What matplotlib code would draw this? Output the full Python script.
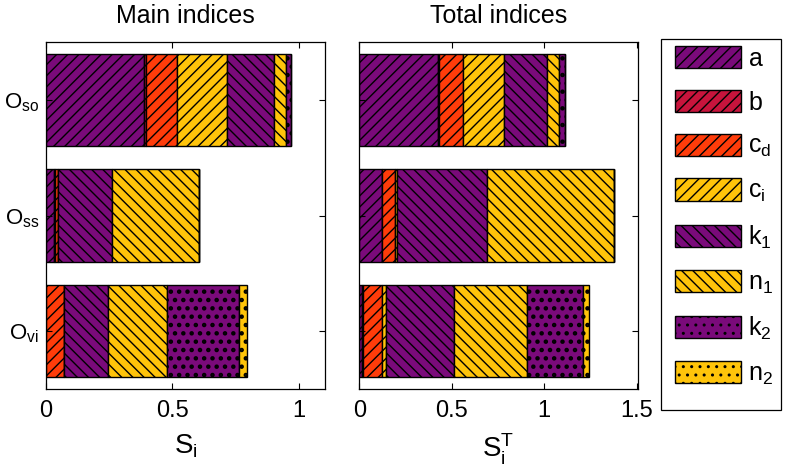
import numpy as np
import matplotlib
matplotlib.use("Agg")
import matplotlib.pyplot as plt
from matplotlib.patches import Rectangle


OUTPUT_FILE = "out.png"

# parameters (stack order, left to right) and outputs (top to bottom)
params = ["a", "b", "c_d", "c_i", "k_1", "n_1", "k_2", "n_2"]
outputs = ["so", "ss", "vi"]

# main (first-order) indices S_i, one list per output
main_so = [0.389, 0.005, 0.123, 0.198, 0.188, 0.046, 0.020, 0.002]
main_ss = [0.032, 0.003, 0.013, 0.0, 0.212, 0.345, 0.0, 0.0]
main_vi = [0.0, 0.0, 0.073, 0.0, 0.171, 0.233, 0.288, 0.032]

# total indices S_i^T
total_so = [0.428, 0.004, 0.127, 0.222, 0.233, 0.063, 0.034, 0.0]
total_ss = [0.125, 0.0, 0.068, 0.010, 0.488, 0.687, 0.0, 0.0]
total_vi = [0.015, 0.005, 0.102, 0.020, 0.371, 0.396, 0.303, 0.030]

PURPLE = "#7a0a7a"
CRIMSON = "#c8143c"
RED = "#ff3c0a"
YELLOW = "#ffc40a"

colors = [PURPLE, CRIMSON, RED, YELLOW, PURPLE, YELLOW, PURPLE, YELLOW]
hatches = ["///", "///", "///", "///", "\\\\\\", "\\\\\\", "..", ".."]

plt.rcParams["font.family"] = ["Liberation Sans", "DejaVu Sans"]
plt.rcParams["mathtext.fontset"] = "custom"
plt.rcParams["mathtext.rm"] = "Liberation Sans"
plt.rcParams["mathtext.it"] = "Liberation Sans:italic"
plt.rcParams["hatch.linewidth"] = 1.0


def stacked_barh(ax, rows):
    values = np.array(rows)          # shape (outputs, params)
    ypos = np.arange(len(rows), 0, -1)
    left = np.zeros(len(rows))
    handles = []
    for j in range(values.shape[1]):
        # dotted patterns need thicker hatch strokes to look like the squares
        lw = 2.0 if "." in hatches[j] else 1.0
        with plt.rc_context({"hatch.linewidth": lw}):
            bars = ax.barh(
                ypos,
                values[:, j],
                left=left,
                height=0.8,
                color=colors[j],
                edgecolor="black",
                linewidth=1.0,
                hatch=hatches[j],
            )
        handles.append(bars)
        left = left + values[:, j]
    ax.set_ylim(0.5, len(rows) + 0.5)
    ax.set_yticks(ypos)
    ax.tick_params(direction="in", top=True, right=True, length=4)
    ax.tick_params(axis="x", labelsize=17, pad=8)
    ax.tick_params(axis="y", labelsize=16, pad=5)
    for s in ax.spines.values():
        s.set_linewidth(0.9)
    return handles


def main():
    fig = plt.figure(figsize=(7.86, 4.72), dpi=100)
    ax1 = fig.add_axes([46 / 786, 83 / 472, 279 / 786, 347 / 472])
    ax2 = fig.add_axes([359.3 / 786, 83 / 472, 278.4 / 786, 347 / 472])

    handles = stacked_barh(ax1, [main_so, main_ss, main_vi])
    stacked_barh(ax2, [total_so, total_ss, total_vi])

    ax1.set_xlim(0, 1.104)
    ax1.set_xticks([0, 0.5, 1])
    ax1.set_xticklabels(["0", "0.5", "1"])
    ax1.set_yticklabels([r"$\mathrm{O}_{\mathrm{%s}}$" % o for o in outputs])

    ax2.set_xlim(0, 1.505)
    ax2.set_xticks([0, 0.5, 1, 1.5])
    ax2.set_xticklabels(["0", "0.5", "1", "1.5"])
    ax2.set_yticklabels([])

    ax1.set_title("Main indices", fontsize=18, pad=14)
    ax2.set_title("Total indices", fontsize=18, pad=14)

    ax1.set_xlabel(r"$\mathrm{S}_{\mathrm{i}}$", fontsize=20)
    ax2.set_xlabel(r"$\mathrm{S}_{\mathrm{i}}^{\mathrm{T}}$", fontsize=20)
    ax1.xaxis.set_label_coords(0.5, -0.124)
    ax2.xaxis.set_label_coords(0.5, -0.124)

    labels = []
    for p in params:
        if "_" in p:
            base, sub = p.split("_")
            labels.append(r"$\mathrm{%s}_{\mathrm{%s}}$" % (base, sub))
        else:
            labels.append(r"$\mathrm{%s}$" % p)

    # legend box drawn separately so the entries can sit near its top
    fig.patches.append(Rectangle(
        (661 / 786, 1 - 410 / 472), 120 / 786, 371 / 472,
        transform=fig.transFigure, facecolor="white",
        edgecolor="black", linewidth=0.9, zorder=0,
    ))
    fig.legend(
        [h[0] for h in handles],
        labels,
        loc="upper left",
        bbox_to_anchor=(675 / 786, 1 - 46 / 472),
        borderaxespad=0,
        borderpad=0,
        fontsize=18,
        handlelength=2.64,
        handleheight=1.0,
        handletextpad=0.3,
        labelspacing=0.76,
        frameon=False,
    )

    fig.savefig(OUTPUT_FILE, dpi=100)
    plt.close(fig)


if __name__ == "__main__":
    main()
